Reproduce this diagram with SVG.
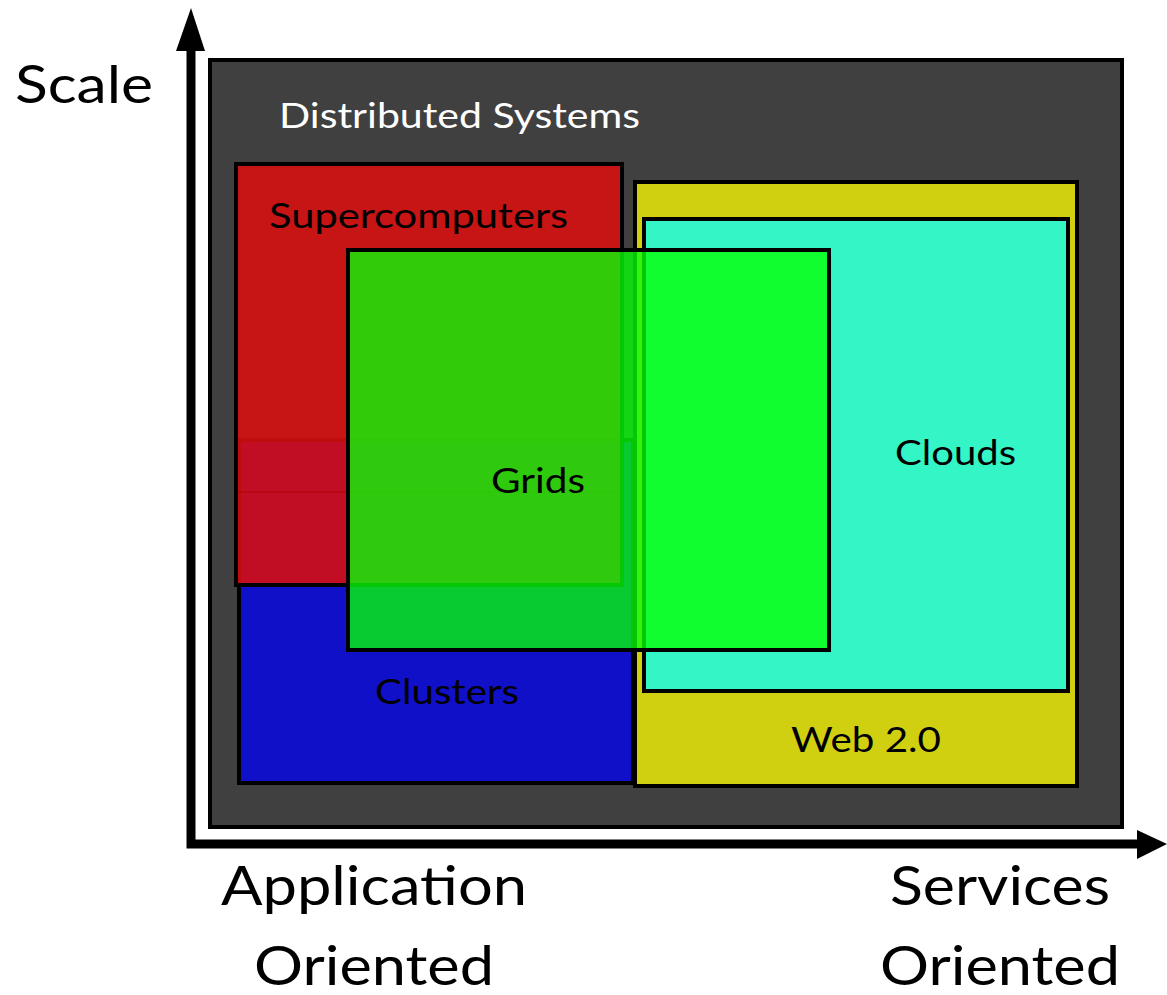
<svg xmlns="http://www.w3.org/2000/svg" width="1167" height="995" viewBox="0 0 1167 995">
<style>
.lbl{font-family:Lato,"Open Sans","DejaVu Sans",sans-serif;fill:#000}
.box{stroke:#000;stroke-width:4}
</style>
<rect width="1167" height="995" fill="#fff"/>
<g id="distributed-systems">
<rect x="210" y="60" width="912" height="767" fill="#404040" class="box"/>
<text x="279" y="128" class="lbl" style="fill:#fff" font-size="34" textLength="361" lengthAdjust="spacingAndGlyphs">Distributed Systems</text>
</g>
<g id="clusters">
<rect x="239" y="440" width="394" height="343" fill="#1010c8" class="box"/>
<text x="375" y="704" class="lbl" font-size="34" textLength="144" lengthAdjust="spacingAndGlyphs">Clusters</text>
</g>
<g id="supercomputers">
<rect x="236" y="164" width="386" height="421" fill="#da0e0e" fill-opacity="0.88" class="box"/>
<line x1="238" y1="492" x2="620" y2="492" stroke="#b00000" stroke-width="2" opacity="0.4"/>
<text x="269" y="228" class="lbl" font-size="34" textLength="299" lengthAdjust="spacingAndGlyphs">Supercomputers</text>
</g>
<g id="web20">
<rect x="635" y="182" width="442" height="604" fill="#d0d010" class="box"/>
<text x="791" y="752" class="lbl" font-size="34" textLength="150" lengthAdjust="spacingAndGlyphs">Web 2.0</text>
</g>
<g id="clouds">
<rect x="644" y="219" width="424" height="472" fill="#33f5c5" class="box"/>
<text x="895" y="465" class="lbl" font-size="34" textLength="121" lengthAdjust="spacingAndGlyphs">Clouds</text>
</g>
<g id="grids">
<rect x="348" y="250" width="481" height="400" fill="#06ff06" fill-opacity="0.78" class="box"/>
<text x="491" y="493" class="lbl" font-size="34" textLength="94" lengthAdjust="spacingAndGlyphs">Grids</text>
</g>
<g id="connectors">
<polyline points="191,50 191,844 1138,844" fill="none" stroke="#000" stroke-width="9"/>
<polygon points="191,8 176,51 205,51" fill="#000"/>
<polygon points="1167,844 1137,830 1137,859" fill="#000"/>
</g>
<g id="axis-labels">
<text x="15" y="103" class="lbl" font-size="52" textLength="138" lengthAdjust="spacingAndGlyphs">Scale</text>
<text x="221" y="905" class="lbl" font-size="54" textLength="306" lengthAdjust="spacingAndGlyphs">Application</text>
<text x="254" y="985" class="lbl" font-size="54" textLength="240" lengthAdjust="spacingAndGlyphs">Oriented</text>
<text x="890" y="905" class="lbl" font-size="54" textLength="220" lengthAdjust="spacingAndGlyphs">Services</text>
<text x="880" y="985" class="lbl" font-size="54" textLength="240" lengthAdjust="spacingAndGlyphs">Oriented</text>
</g>
</svg>
